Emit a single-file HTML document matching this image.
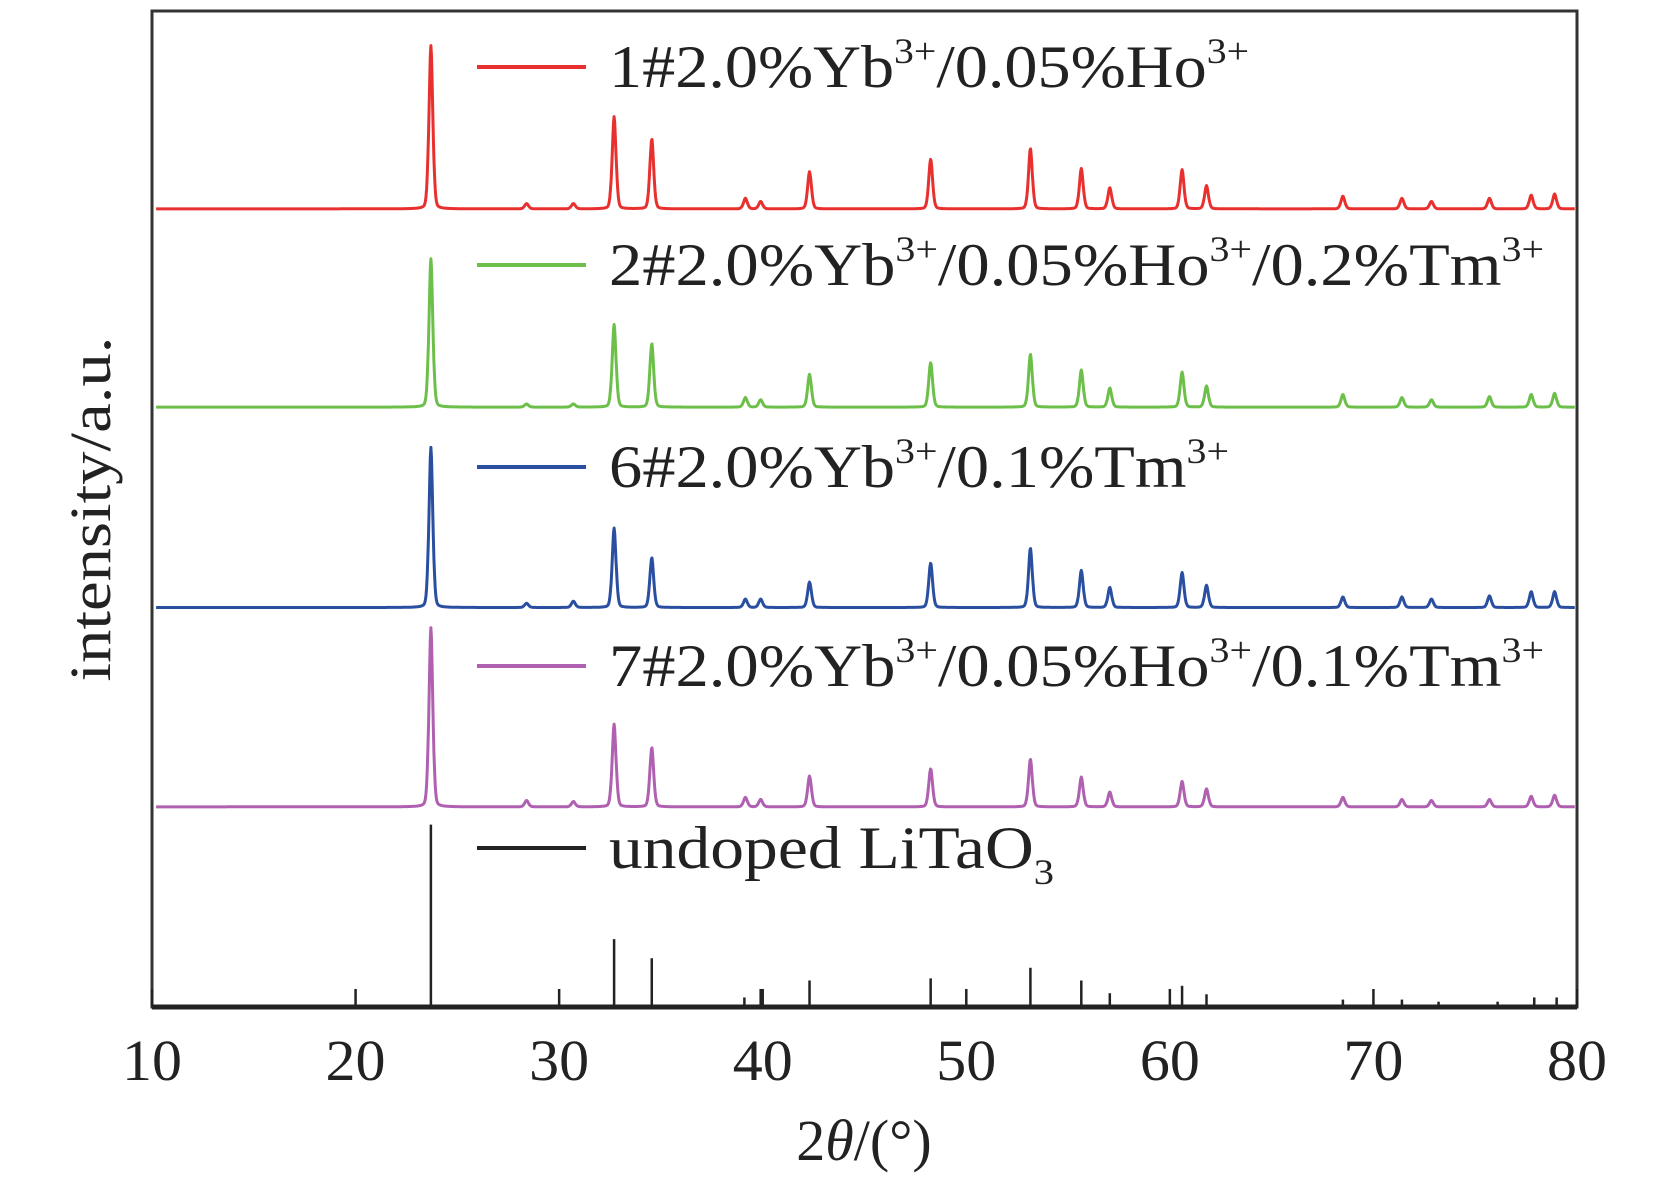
<!DOCTYPE html>
<html><head><meta charset="utf-8"><style>
html,body{margin:0;padding:0;background:#fff}
svg{display:block}
text{font-family:"Liberation Serif",serif;fill:#222}
</style></head><body>
<svg id="chart" width="1654" height="1181" viewBox="0 0 1654 1181" xmlns="http://www.w3.org/2000/svg">
<g id="plot"></g>
<g id="axes"></g>
<g id="legend"></g>
</svg>
<script>
const peakPos = [23.7,28.4,30.7,32.7,34.55,39.15,39.9,42.3,48.25,53.15,55.65,57.05,60.6,61.8,68.5,71.4,72.85,75.7,77.75,78.9];
const redH    = [154,5,5,87,66,10,7,35,47,57,38,20,37,22,12,10,7,10,13,14];
const greenH  = [140,3,3,78,60,9,7,31,42,50,35,18,33,20,12,9,7,10,12,13];
const blueH   = [151,4,6,75,47,8,8,24,42,56,35,19,33,21,10,10,8,11,15,15];
const purpleH = [169,6,5,78,56,9,7,29,36,45,28,14,24,17,9,7,6,7,10,11];
const refPos  = [23.7,32.7,34.55,39.1,39.9,42.3,48.25,53.15,55.65,57.05,60.6,61.8,68.5,71.4,73.2,76.1,77.9,79.0];
const refH    = [172,64,46,9,17,25,27,37,25,13,20,12,7,7,5,5,9,9];
const xTicks  = [10,20,30,40,50,60,70,80];
const series = [
 {name:'red',   label:['1#2.0%Yb','3+','/0.05%Ho','3+'], h:redH, base:197, color:'#e8312f', ly:67, tw:640},
 {name:'green', label:['2#2.0%Yb','3+','/0.05%Ho','3+','/0.2%Tm','3+'], h:greenH, base:384, color:'#6cc04a', ly:265, tw:935},
 {name:'blue',  label:['6#2.0%Yb','3+','/0.1%Tm','3+'], h:blueH, base:573, color:'#2a4fa0', ly:467, tw:620},
 {name:'purple',label:['7#2.0%Yb','3+','/0.05%Ho','3+','/0.1%Tm','3+'], h:purpleH, base:761, color:'#b060b0', ly:666, tw:935}
];
const S = 1654/1560;
const L=152, R=1577, T=11, B=1007;
const xs = v => L + (v-10)/70*(R-L);
const ys = (base,h) => base*S - h*S;
const NS='http://www.w3.org/2000/svg';
function mk(tag,attrs,parent){const e=document.createElementNS(NS,tag);for(const k in attrs)e.setAttribute(k,attrs[k]);parent.appendChild(e);return e;}
const plot=document.getElementById('plot'), axes=document.getElementById('axes'), legend=document.getElementById('legend');

series.forEach(s=>{
  let d='';
  for(let x=10.2;x<=79.9;x+=0.03){
    let y=0;
    for(let i=0;i<peakPos.length;i++){const w=0.12;const u=(x-peakPos[i])/w;y+=s.h[i]*Math.exp(-u*u*0.7)*0.7+s.h[i]*0.3/(1+u*u*2);}
    d+=(d?'L':'M')+xs(x).toFixed(1)+','+ys(s.base,y).toFixed(1);
  }
  const p=mk('path',{d:d,fill:'none',stroke:s.color,'stroke-width':3,'stroke-linejoin':'round'},plot);
  
  
});
refPos.forEach((v,i)=>{
  const l=mk('line',{x1:xs(v),x2:xs(v),y1:B,y2:B-refH[i]*S,stroke:'#222','stroke-width':2.5},plot);
  
  
});

const fr=mk('rect',{x:L,y:T,width:R-L,height:B-T,fill:'none',stroke:'#333','stroke-width':3},axes);


mk('line',{x1:L,x2:R,y1:B,y2:B,stroke:'#222','stroke-width':5},axes);
xTicks.forEach(v=>{
  const t=mk('line',{x1:xs(v),x2:xs(v),y1:B,y2:B-18,stroke:'#222','stroke-width':2.5},axes);
  
  
  const lb=mk('text',{x:xs(v),y:1080,'font-size':58,'text-anchor':'middle',textLength:60,lengthAdjust:'spacingAndGlyphs'},axes);
  lb.textContent=v;
  
  
});
const xt=mk('text',{x:864,y:1160,'font-size':58,'text-anchor':'middle'},axes);


xt.innerHTML='2<tspan font-style="italic">θ</tspan>/(°)';
const yt=mk('text',{x:0,y:0,'font-size':58,'text-anchor':'middle',transform:'translate(110,509) rotate(-90)',textLength:345,lengthAdjust:'spacingAndGlyphs'},axes);
yt.textContent='intensity/a.u.';



function legendRow(color,parts,y,tw,name){
  const g=mk('g',{},legend);
  
  
  mk('line',{x1:477,x2:586,y1:y,y2:y,stroke:color,'stroke-width':4},g);
  const t=mk('text',{x:609,y:y+20,'font-size':60,textLength:tw,lengthAdjust:'spacingAndGlyphs'},g);
  let html='';
  parts.forEach((p,i)=>{
    if(p==='3+')html+='<tspan font-size="36" dy="-24">3+</tspan>';
    else if(p==='3')html+='<tspan font-size="36" dy="16">3</tspan>';
    else html+='<tspan dy="'+(i>0?(parts[i-1]==='3+'?24:(parts[i-1]==='3'?-16:0)):0)+'">'+p+'</tspan>';
  });
  t.innerHTML=html;
}
series.forEach(s=>legendRow(s.color,s.label,s.ly,s.tw,'legend-entry-'+s.name));
legendRow('#222',['undoped LiTaO','3'],848,445,'legend-entry-undoped');
</script>
</body></html>
